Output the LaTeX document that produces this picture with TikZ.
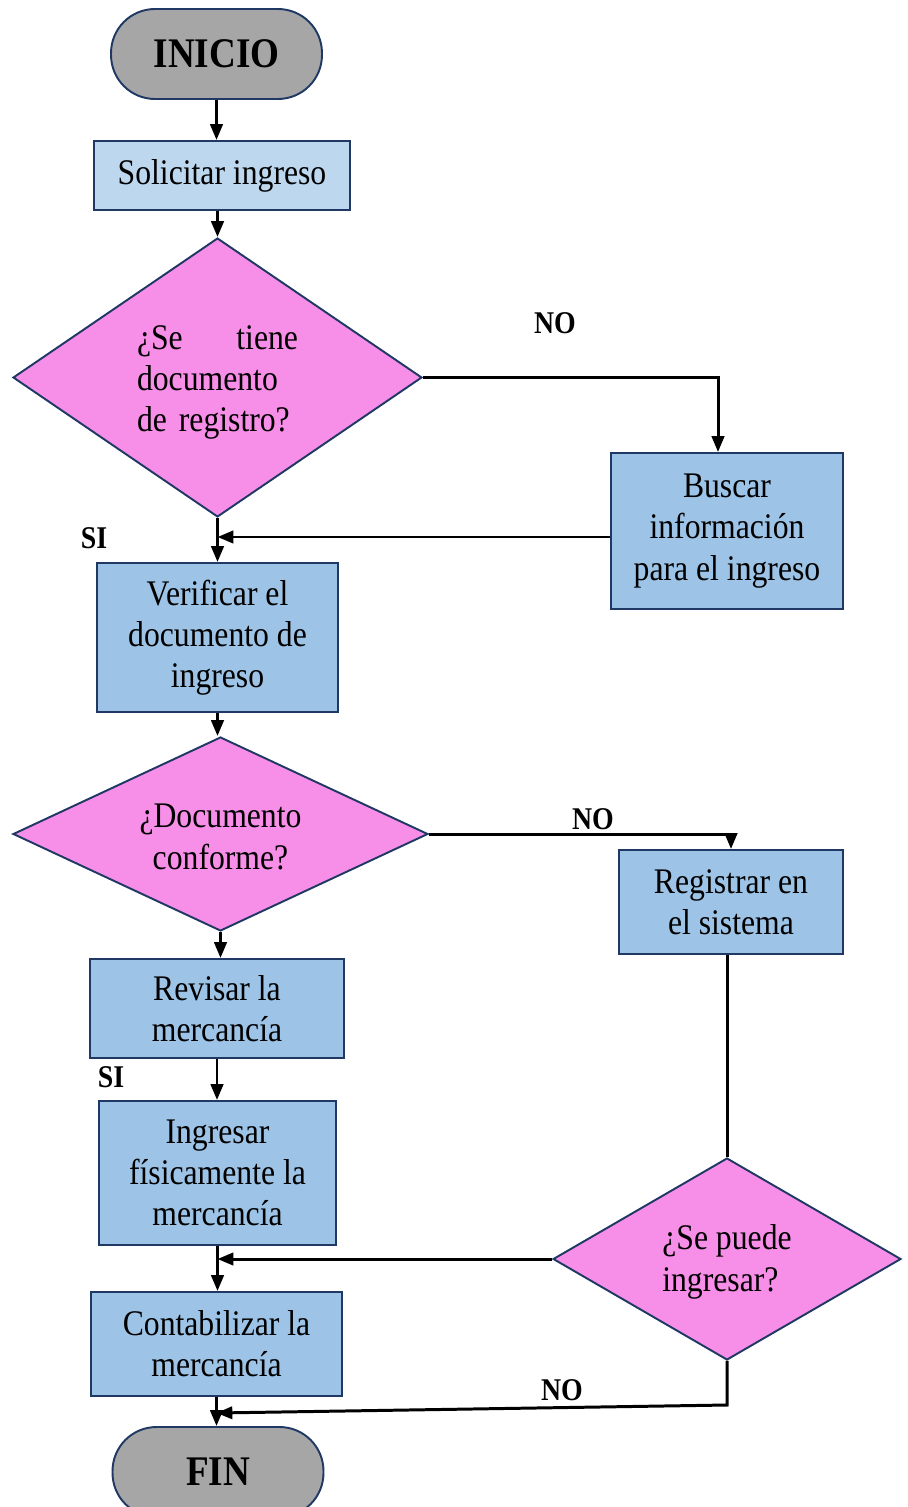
\documentclass[tikz,border=0pt]{standalone}
\usepackage{fontspec}
\setmainfont{Liberation Serif}[FakeStretch=0.88]
\usetikzlibrary{shapes.geometric,arrows.meta}
\definecolor{borde}{HTML}{1F3864}
\definecolor{gris}{HTML}{A6A6A6}
\definecolor{celeste}{HTML}{BDD7EE}
\definecolor{azul}{HTML}{9DC3E6}
\definecolor{rosa}{HTML}{F78FE8}
\begin{document}
\begin{tikzpicture}[x=.02cm, y=-.02cm, >={Triangle[length=9pt,width=7pt]},
    txt/.style={font=\fontsize{20.5}{23.5}\selectfont, align=center, inner sep=0pt},
    caja/.style={draw=borde, line width=1.1pt, fill=azul, txt},
    term/.style={draw=borde, line width=1.1pt, fill=gris, rounded corners=.88cm, minimum width=4.22cm, minimum height=1.8cm, font=\bfseries\fontsize{24}{28}\selectfont},
    deci/.style={diamond, draw=borde, line width=1.1pt, fill=rosa, inner sep=0pt},
    etq/.style={font=\bfseries\fontsize{18}{21}\selectfont},
    flecha/.style={->, line width=1.7pt}]
\useasboundingbox (0,0) rectangle (908,1507);
\node[term] (ini) at (216.5,54) {INICIO};
\node[caja, fill=celeste, minimum width=5.12cm, minimum height=1.38cm] (sol) at (222,175.5) {Solicitar ingreso};
\node[deci, minimum width=8.18cm, minimum height=5.58cm] (d1) at (217.5,377.5) {};
\node[txt, text width=3.22cm, align=left, yshift=-.1cm] (t1) at (d1) {¿Se \hfill tiene\\documento\\de registro?};
\node[caja, minimum width=4.64cm, minimum height=3.12cm] (bus) at (727,531) {Buscar\\información\\para el ingreso};
\node[caja, minimum width=4.82cm, minimum height=2.98cm] (ver) at (217.5,637.5) {Verificar el\\documento de\\ingreso};
\node[deci, minimum width=8.3cm, minimum height=3.88cm] (d2) at (220.5,834) {};
\node[txt, yshift=-.06cm] (t2) at (d2) {¿Documento\\conforme?};
\node[caja, minimum width=4.48cm, minimum height=2.08cm] (reg) at (731,902) {Registrar en\\el sistema};
\node[caja, minimum width=5.08cm, minimum height=1.98cm] (rev) at (217,1008.5) {Revisar la\\mercancía};
\node[caja, minimum width=4.74cm, minimum height=2.88cm] (ing) at (217.5,1173) {Ingresar\\físicamente la\\mercancía};
\node[deci, minimum width=6.96cm, minimum height=4.04cm] (d3) at (727,1259) {};
\node[txt, align=left, yshift=-.06cm] (t3) at (d3) {¿Se puede\\ingresar?};
\node[caja, minimum width=5.02cm, minimum height=2.08cm] (con) at (216.5,1344) {Contabilizar la\\mercancía};
\node[term] (fin) at (218,1472) {FIN};
\node[etq] (no1) at (555,323) {NO};
\node[etq] (no2) at (593,819) {NO};
\node[etq] (no3) at (562,1390) {NO};
\node[etq] (si1) at (94,538) {SI};
\node[etq] (si2) at (111,1077) {SI};
\draw[flecha] (ini.south) -- (ini.south |- sol.north);
\draw[flecha] (sol.south -| d1.north) -- (d1.north);
\draw[flecha] (d1.east) -| ([xshift=-.18cm]bus.north);
\draw[flecha] ([yshift=-.12cm]bus.west) -- ([yshift=-.12cm]bus.west -| d1.south);
\draw[flecha] (d1.south) -- (d1.south |- ver.north);
\draw[flecha] (ver.south) -- (ver.south |- d2.north);
\draw[flecha] (d2.east) -| (reg.north);
\draw[line width=1.7pt] (reg.south -| d3.north) -- (d3.north);
\draw[flecha] (d3.west) -- (d3.west -| ing.south);
\draw[flecha] (d2.south) -- (d2.south |- rev.north);
\draw[flecha] (rev.south) -- (rev.south |- ing.north);
\draw[flecha] (ing.south) -- (ing.south |- con.north);
\draw[flecha] (con.south) -- (con.south |- fin.north);
\coordinate (k) at (d3.south |- 0,1405);
\draw[flecha] (d3.south) -- (k) -- (con.south |- 0,1413);
\end{tikzpicture}
\end{document}
